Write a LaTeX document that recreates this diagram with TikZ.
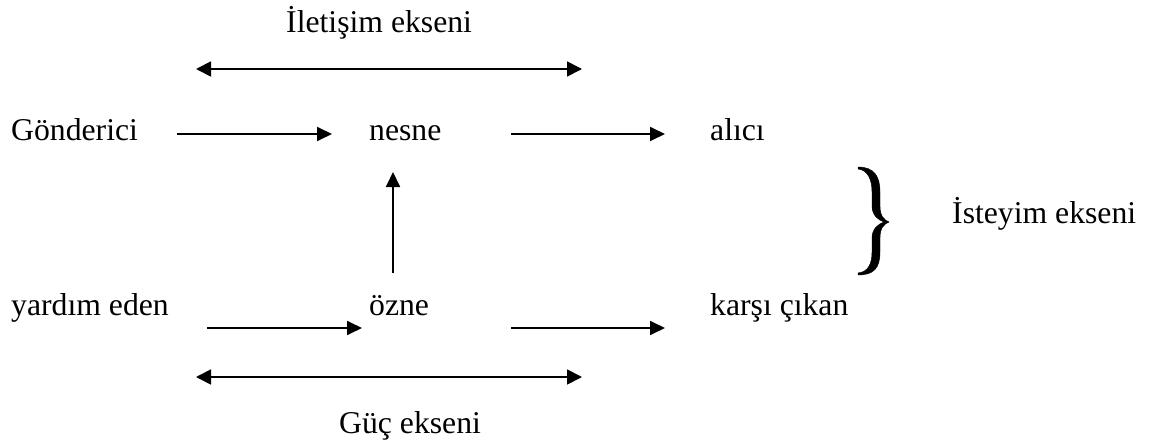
\documentclass[tikz,border=0pt]{standalone}
\usepackage{fontspec}
\setmainfont{Liberation Serif}
\usetikzlibrary{arrows.meta}
\tikzset{
  lbl/.style={anchor=base west, inner sep=0pt, font=\fontsize{31.7}{38}\selectfont},
  axis/.style={line width=1.8pt, -{Triangle[length=15pt,width=14pt]}},
  twoway/.style={line width=1.8pt, {Triangle[length=15pt,width=15pt]}-{Triangle[length=15pt,width=15pt]}},
  bracefill/.style={fill=black, draw=black, line width=0.4pt}
}
\begin{document}
\begin{tikzpicture}[x=1pt,y=-1pt]
\useasboundingbox (0,0) rectangle (1149,444);

% labels
\node[lbl] (ilet)  at (286,33)  {İletişim ekseni};
\node[lbl] (gond)  at (11,140)  {Gönderici};
\node[lbl] (nesne) at (369,140) {nesne};
\node[lbl] (alici) at (710,140) {alıcı};
\node[lbl] (istey) at (952,223) {İsteyim ekseni};
\node[lbl] (yard)  at (11,315)  {yardım eden};
\node[lbl] (ozne)  at (369,315) {özne};
\node[lbl] (karsi) at (710,315) {karşı çıkan};
\node[lbl] (guc)   at (339,433) {Güç ekseni};

% arrow end points
\coordinate (t1) at (196,69);  \coordinate (t2) at (582,69);
\coordinate (a1) at (177,134); \coordinate (a2) at (332,134);
\coordinate (b1) at (511,134); \coordinate (b2) at (665,134);
\coordinate (v1) at (393,273); \coordinate (v2) at (393,172);
\coordinate (c1) at (207,328); \coordinate (c2) at (362,328);
\coordinate (d1) at (511,328); \coordinate (d2) at (665,328);
\coordinate (g1) at (196,377); \coordinate (g2) at (582,377);

\draw[twoway] (t1) -- (t2);
\draw[axis] (a1) -- (a2);
\draw[axis] (b1) -- (b2);
\draw[axis] (v1) -- (v2);
\draw[axis] (c1) -- (c2);
\draw[axis] (d1) -- (d2);
\draw[twoway] (g1) -- (g2);

% right brace
\fill[bracefill]
  (858,167) .. controls (874,167) and (880,176) .. (880,192)
  -- (880,206) .. controls (880,216) and (884,220) .. (889,222)
  .. controls (884,224) and (880,228) .. (880,238)
  -- (880,252) .. controls (880,268) and (874,275) .. (858,275)
  -- (858,273) .. controls (868,272) and (872,264) .. (872,252)
  -- (872,238) .. controls (872,229) and (878,224) .. (884,222)
  .. controls (878,220) and (872,215) .. (872,206)
  -- (872,192) .. controls (872,180) and (868,170) .. (858,169)
  -- cycle;
\end{tikzpicture}
\end{document}
